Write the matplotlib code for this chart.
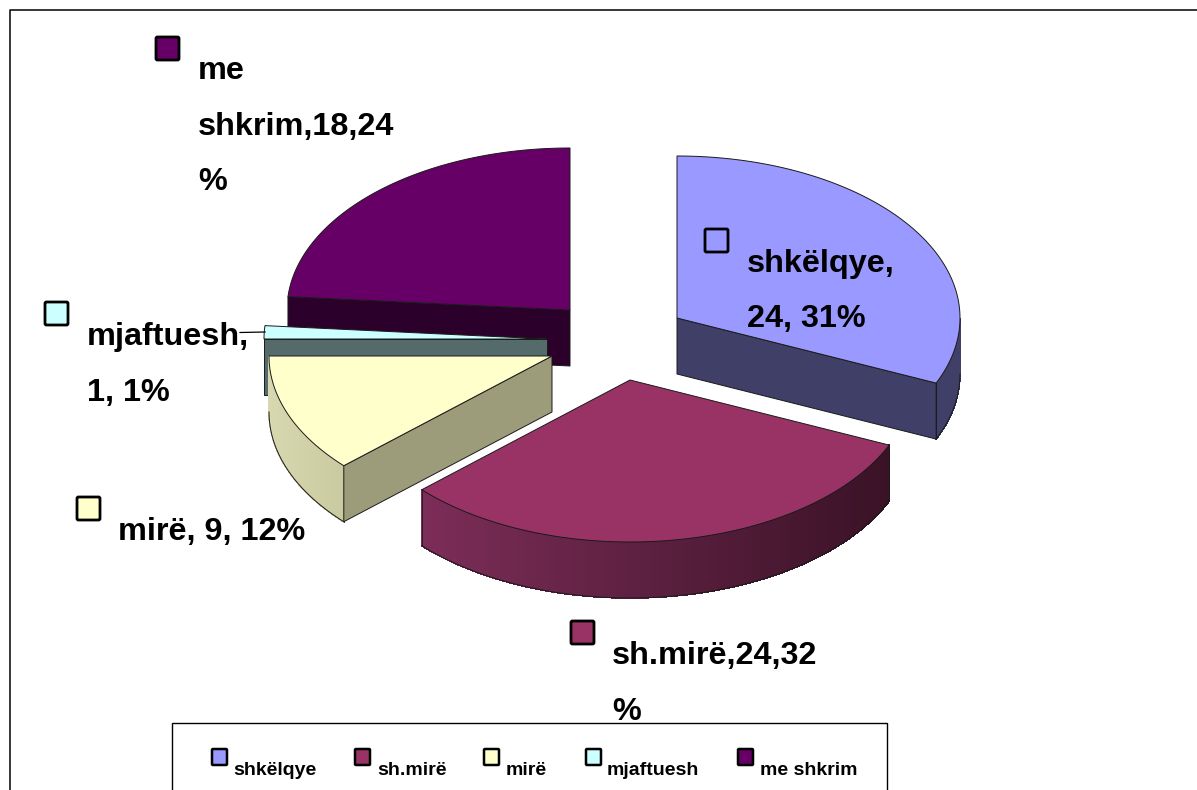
#!/usr/bin/env python3
import numpy as np
import matplotlib
matplotlib.use("Agg")
import matplotlib.pyplot as plt
from matplotlib.colors import to_rgb
from matplotlib.patches import Polygon, FancyBboxPatch, Rectangle

plt.rcParams['font.family'] = ['Liberation Sans', 'DejaVu Sans']

categories = ["shkëlqye", "sh.mirë", "mirë", "mjaftuesh", "me shkrim"]
values = [24, 24, 9, 1, 18]
top_colors = ["#9999FF", "#993366", "#FFFFCC", "#CCFFFF", "#660066"]
face_colors = ["#3F3F68", None, "#9C9C7A", "#556B6B", "#2B002B"]
rim_left = ["#3F3F68", "#7C2D58", "#D8D8B0", "#556B6B", "#2B002B"]
rim_right = ["#3F3F68", "#3A1226", "#CACAA0", "#556B6B", "#2B002B"]
apex = [(677, 318), (630, 380), (552, 356), (547, 339), (570, 310)]
label_lines = [["shkëlqye,", "24, 31%"], ["sh.mirë,24,32", "%"], ["mirë, 9, 12%"],
               ["mjaftuesh,", "1, 1%"], ["me", "shkrim,18,24", "%"]]
label_xy = [(747, 272), (612, 664), (118, 540), (87, 345), (198, 79)]
key_xy = [(704, 228), (570, 620), (76, 496), (44, 301), (155, 36)]
legend_key_x = [211, 354, 483, 585, 737]
legend_text_x = [233, 377, 506, 607, 760]

RX, RY, DEPTH = 283, 162, 56
EDGE = "#1a1a1a"


#--------------------------------------------------------------------------#
def rim(center, t):
    # t in degrees, clockwise from 12 o'clock
    t = np.radians(t)
    return center[0] + RX * np.sin(t), center[1] - RY * np.cos(t)


def draw_slice(ax, i, t0, t1, z):
    c = apex[i]
    # curved side, only the front half can be seen
    a, b = max(t0, 90), min(t1, 270)
    if b > a:
        ts = np.linspace(a, b, 121)
        xs, ys = rim(c, ts)
        x_lo, x_hi = xs.min(), xs.max()
        left, right = np.array(to_rgb(rim_left[i])), np.array(to_rgb(rim_right[i]))
        for k in range(120):
            f = ((xs[k] + xs[k + 1]) / 2 - x_lo) / (x_hi - x_lo)
            col = left + (right - left) * f
            pts = [(xs[k], ys[k]), (xs[k + 1], ys[k + 1]),
                   (xs[k + 1], ys[k + 1] + DEPTH), (xs[k], ys[k] + DEPTH)]
            ax.add_patch(Polygon(pts, fc=col, ec=col, lw=0.5, antialiased=False, zorder=z))
        ax.plot(xs, ys + DEPTH, color=EDGE, lw=0.7, zorder=z + 0.1)
        if a > 90:
            ax.plot([xs[0], xs[0]], [ys[0], ys[0] + DEPTH], color=EDGE, lw=0.6, zorder=z + 0.1)
        if b < 270 or face_colors[i] is None:
            ax.plot([xs[-1], xs[-1]], [ys[-1], ys[-1] + DEPTH], color=EDGE, lw=0.6, zorder=z + 0.1)

    # straight cut face
    if face_colors[i] is not None:
        t = t1 if t1 < 180 else t0
        x, y = rim(c, t)
        ax.add_patch(Polygon([c, (x, y), (x, y + DEPTH), (c[0], c[1] + DEPTH)],
                             fc=face_colors[i], ec=EDGE, lw=0.7, zorder=z + 0.2))

    # top
    ts = np.linspace(t0, t1, 120)
    xs, ys = rim(c, ts)
    ax.add_patch(Polygon([c] + list(zip(xs, ys)), fc=top_colors[i], ec=EDGE, lw=0.7, zorder=z + 0.3))


#--------------------------------------------------------------------------#
fig = plt.figure(figsize=(11.97, 7.9), dpi=100)
ax = fig.add_axes([0, 0, 1, 1])
ax.set_xlim(0, 1197)
ax.set_ylim(790, 0)
ax.axis("off")

ax.plot([9.5, 9.5, 1197], [790, 9.5, 9.5], color="black", lw=1.1)

edges = np.concatenate([[0], np.cumsum(values)]) / sum(values) * 360
for z, i in enumerate([4, 3, 0, 2, 1]):
    draw_slice(ax, i, edges[i], edges[i + 1], z + 2)

# leader line of the small slice
ax.plot([240, 265], [332.5, 332], color="black", lw=0.9, zorder=8)

ax.add_patch(Rectangle((171.5, 722.5), 715, 80, fc="white", ec="black", lw=1.0, zorder=8))
for i in range(len(categories)):
    x, y = label_xy[i]
    for n, line in enumerate(label_lines[i]):
        ax.text(x, y + n * 55.5, line, fontsize=23.3, fontweight="bold",
                va="baseline", ha="left", color="black", zorder=9)
    kx, ky = key_xy[i]
    ax.add_patch(FancyBboxPatch((kx + 1, ky + 1), 23, 23, boxstyle="round,pad=0,rounding_size=1.5",
                                fc=top_colors[i], ec="black", lw=2.0, zorder=9))

for i, name in enumerate(categories):
    ax.add_patch(FancyBboxPatch((legend_key_x[i] + 1, 749), 15, 16, boxstyle="round,pad=0,rounding_size=1",
                                fc=top_colors[i], ec="black", lw=1.8, zorder=9))
    ax.text(legend_text_x[i], 775, name, fontsize=14, fontweight="bold",
            va="baseline", ha="left", color="black", zorder=9)

fig.savefig("out.png", dpi=100)
print("done")
